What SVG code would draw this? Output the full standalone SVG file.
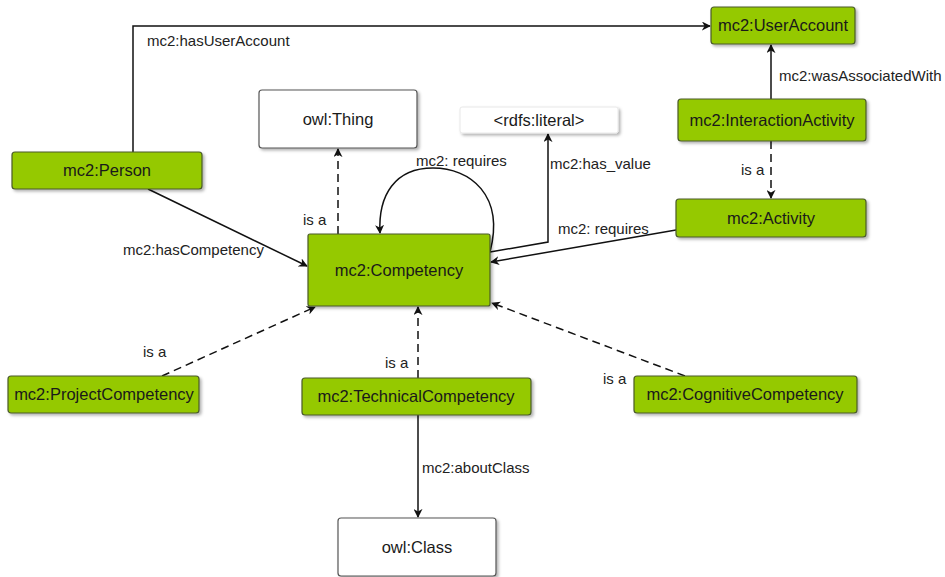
<svg xmlns="http://www.w3.org/2000/svg" width="945" height="577" viewBox="0 0 945 577">
<defs>
<marker id="arr" viewBox="0 0 10 10" refX="9" refY="5" markerWidth="9" markerHeight="9" markerUnits="userSpaceOnUse" orient="auto">
<path d="M0,0 L10,5 L0,10 L3,5 z" fill="#111"/>
</marker>
<filter id="sh" x="-10%" y="-20%" width="130%" height="160%">
<feDropShadow dx="2" dy="2" stdDeviation="1.5" flood-color="#000" flood-opacity="0.3"/>
</filter>
<style>
.g{fill:#95c900;stroke:#4a5a2a;stroke-width:1.2;filter:url(#sh)}
.w{fill:#fff;stroke:#555;stroke-width:1.2;filter:url(#sh)}
.lit{fill:#fff;stroke:#e8e8e8;stroke-width:1;filter:url(#sh)}
.nt{font-family:"Liberation Sans",Arial,sans-serif;font-size:16.5px;fill:#1a1a1a;text-anchor:middle}
.lt{font-family:"Liberation Sans",Arial,sans-serif;font-size:15px;fill:#222}
.e{fill:none;stroke:#111;stroke-width:1.5;marker-end:url(#arr)}
.d{fill:none;stroke:#111;stroke-width:1.5;stroke-dasharray:8 5;marker-end:url(#arr)}
</style>
</defs>
<g id="connectors">
<path class="e" d="M133,152 L133,26 L710,26"/>
<path class="e" d="M771,99 L771,45"/>
<path class="d" d="M771,141 L771,198"/>
<path class="e" d="M148,189 L307,266"/>
<path class="d" d="M338,234 L338,149"/>
<path class="e" d="M490,252 C505,195 470,168 433,168 C395,168 378,195 380,233"/>
<path class="e" d="M490,252 L548,242 L548,134"/>
<path class="e" d="M676,230 L491,262"/>
<path class="d" d="M162,376 L315,307"/>
<path class="d" d="M418,378 L418,307"/>
<path class="d" d="M685,376 L492,303"/>
<path class="e" d="M418,415 L418,517"/>
</g>
<g id="n-useraccount"><rect class="g" x="711" y="7" width="144" height="37" rx="3"/><text class="nt" x="783" y="31">mc2:UserAccount</text></g>
<g id="n-interaction"><rect class="g" x="678" y="99" width="188" height="42" rx="3"/><text class="nt" x="772" y="126">mc2:InteractionActivity</text></g>
<g id="n-activity"><rect class="g" x="676" y="199" width="190" height="38" rx="3"/><text class="nt" x="771" y="224">mc2:Activity</text></g>
<g id="n-thing"><rect class="w" x="259" y="90" width="158" height="58" rx="3"/><text class="nt" x="338" y="125">owl:Thing</text></g>
<g id="n-literal"><rect class="lit" x="460" y="107" width="158" height="26" rx="2"/><text class="nt" x="539" y="126">&lt;rdfs:literal&gt;</text></g>
<g id="n-person"><rect class="g" x="12" y="152" width="190" height="37" rx="3"/><text class="nt" x="107" y="176">mc2:Person</text></g>
<g id="n-competency"><rect class="g" x="308" y="234" width="182" height="72" rx="2"/><text class="nt" x="399" y="276">mc2:Competency</text></g>
<g id="n-project"><rect class="g" x="8" y="376" width="191" height="37" rx="3"/><text class="nt" x="104" y="400">mc2:ProjectCompetency</text></g>
<g id="n-technical"><rect class="g" x="302" y="378" width="229" height="37" rx="3"/><text class="nt" x="416" y="402">mc2:TechnicalCompetency</text></g>
<g id="n-cognitive"><rect class="g" x="634" y="376" width="223" height="37" rx="3"/><text class="nt" x="745" y="400">mc2:CognitiveCompetency</text></g>
<g id="n-class"><rect class="w" x="338" y="518" width="158" height="58" rx="3"/><text class="nt" x="417" y="553">owl:Class</text></g>
<g id="labels">
<text class="lt" x="147" y="46">mc2:hasUserAccount</text>
<text class="lt" x="779" y="81">mc2:wasAssociatedWith</text>
<text class="lt" x="416" y="166">mc2: requires</text>
<text class="lt" x="550" y="169">mc2:has_value</text>
<text class="lt" x="558" y="234">mc2: requires</text>
<text class="lt" x="123" y="255">mc2:hasCompetency</text>
<text class="lt" x="303" y="225">is a</text>
<text class="lt" x="741" y="175">is a</text>
<text class="lt" x="143" y="357">is a</text>
<text class="lt" x="385" y="368">is a</text>
<text class="lt" x="603" y="384">is a</text>
<text class="lt" x="422" y="473">mc2:aboutClass</text>
</g>
</svg>
